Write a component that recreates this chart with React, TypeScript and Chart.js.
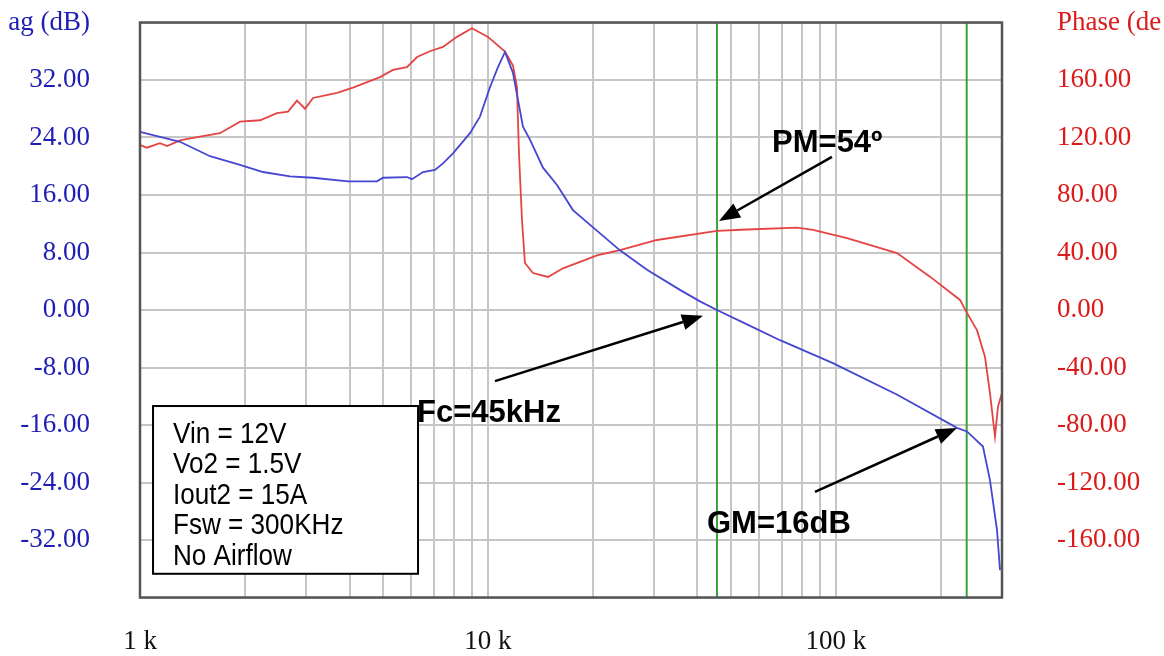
import React, { useEffect, useRef } from "react";
import { Chart, registerables } from "chart.js";

Chart.register(...registerables);

// ---- Data ----
const magFreq = [1000, 1303, 1589, 1938, 2257, 2698, 3142, 3960, 4797, 4992, 5851, 6046, 6506, 7041, 7425, 7932, 8878, 9484, 10133, 10683, 11190, 11797, 12605, 13202, 14389, 15788, 17548, 20035, 23954, 28641, 35622, 40660, 45499, 55500, 69050, 98000, 150000, 222700, 237900, 264500, 277100, 290200, 296100];
const magDb = [24.8, 23.4, 21.4, 20.2, 19.2, 18.6, 18.4, 17.9, 17.9, 18.4, 18.5, 18.2, 19.2, 19.5, 20.4, 21.8, 24.6, 26.9, 31.0, 33.8, 35.9, 33.0, 25.5, 23.7, 19.8, 17.4, 13.9, 11.5, 8.3, 5.6, 2.8, 1.2, 0.0, -2.0, -4.2, -7.4, -11.8, -16.4, -16.9, -19.0, -23.7, -30.6, -36.2];

const phaseFreq = [1000, 1047, 1141, 1196, 1303, 1487, 1698, 1938, 2212, 2476, 2663, 2826, 2980, 3142, 3683, 4093, 4894, 5333, 5851, 6252, 6813, 7425, 8145, 8995, 10000, 11190, 11797, 12114, 12276, 12522, 12771, 13466, 14874, 16428, 20571, 23954, 30590, 45499, 55500, 77250, 85890, 107550, 149760, 186250, 227200, 237900, 254200, 268100, 277100, 286400, 292200, 299900];
const phaseDeg = [114.8, 112.9, 116, 114, 118, 120.6, 123, 131, 132, 137, 138, 145.6, 140, 147.5, 151, 154.7, 162, 167, 169, 176, 180, 183, 190, 196, 190, 179.7, 170, 155, 109, 62.6, 32.7, 25.7, 23, 29, 38, 41.7, 48.7, 55, 56, 57.3, 55.7, 50, 39.6, 23.2, 7, -2, -14, -32.7, -58, -88, -67, -58];

const markerFreqs = [45500, 237500];

const xGridFreqs = [1000, 2000, 3000, 4000, 5000, 6000, 7000, 8000, 9000, 10000, 20000, 30000, 40000, 50000, 60000, 70000, 80000, 90000, 100000, 200000, 300000];
const xLabelFreqs = [1000, 10000, 100000];
const xLabelTexts = ["1 k", "10 k", "100 k"];

const magTitle = "ag (dB)";
const phaseTitle = "Phase (de";

// annotations (data coordinates: freq, dB)
const noteTexts = ["PM=54º", "Fc=45kHz", "GM=16dB"];
const notePos = [[65500, 22.0], [6252, -15.6], [42590, -31.0]];
const arrowTails = [[97400, 21.3], [10474, -9.9], [87030, -25.3]];
const arrowTips = [[46110, 12.4], [41480, -0.8], [222700, -16.4]];

const boxLines = ["Vin = 12V", "Vo2 = 1.5V", "Iout2 = 15A", "Fsw = 300KHz", "No Airflow"];
const boxCorner1 = [1090, -13.36];
const boxCorner2 = [6295, -36.7];
const boxTextAnchor = [1244, -18.5];

const SERIF = "'Liberation Serif', 'Times New Roman', serif";
const SANS = "'Liberation Sans', Arial, sans-serif";

function drawArrow(ctx: CanvasRenderingContext2D, x1: number, y1: number, x2: number, y2: number) {
  const ang = Math.atan2(y2 - y1, x2 - x1);
  const headLen = 21;
  const headHalf = 8;
  const bx = x2 - headLen * Math.cos(ang);
  const by = y2 - headLen * Math.sin(ang);
  ctx.beginPath();
  ctx.moveTo(x1, y1);
  ctx.lineTo(bx, by);
  ctx.stroke();
  ctx.beginPath();
  ctx.moveTo(x2, y2);
  ctx.lineTo(bx + headHalf * Math.sin(ang), by - headHalf * Math.cos(ang));
  ctx.lineTo(bx - headHalf * Math.sin(ang), by + headHalf * Math.cos(ang));
  ctx.closePath();
  ctx.fill();
}

const annotPlugin = {
  id: "annot",
  afterDatasetsDraw(chart: any) {
    const { ctx, chartArea, scales } = chart;
    const xs = scales.x;
    const ys = scales.y;
    const px = (f: number) => xs.getPixelForValue(f);
    const py = (v: number) => ys.getPixelForValue(v);
    ctx.save();
    // plot border
    ctx.strokeStyle = "#555555";
    ctx.lineWidth = 2.5;
    ctx.strokeRect(chartArea.left, chartArea.top, chartArea.right - chartArea.left, chartArea.bottom - chartArea.top);

    // arrows
    ctx.strokeStyle = "#000";
    ctx.fillStyle = "#000";
    ctx.lineWidth = 2.5;
    for (let i = 0; i < arrowTails.length; i++) {
      drawArrow(ctx, px(arrowTails[i][0]), py(arrowTails[i][1]), px(arrowTips[i][0]), py(arrowTips[i][1]));
    }
    // notes
    ctx.font = `bold 31px ${SANS}`;
    ctx.textBaseline = "alphabetic";
    ctx.textAlign = "left";
    for (let i = 0; i < noteTexts.length; i++) {
      ctx.fillText(noteTexts[i], px(notePos[i][0]), py(notePos[i][1]));
    }
    // info box
    const bx1 = px(boxCorner1[0]);
    const by1 = py(boxCorner1[1]);
    const bx2 = px(boxCorner2[0]);
    const by2 = py(boxCorner2[1]);
    ctx.fillStyle = "#fff";
    ctx.fillRect(bx1, by1, bx2 - bx1, by2 - by1);
    ctx.strokeStyle = "#000";
    ctx.lineWidth = 2;
    ctx.strokeRect(bx1, by1, bx2 - bx1, by2 - by1);
    ctx.fillStyle = "#000";
    ctx.font = `30px ${SANS}`;
    const tx = px(boxTextAnchor[0]);
    const ty = py(boxTextAnchor[1]);
    for (let i = 0; i < boxLines.length; i++) {
      ctx.save();
      ctx.translate(tx, ty + i * 30.5);
      ctx.scale(0.87, 1);
      ctx.fillText(boxLines[i], 0, 0);
      ctx.restore();
    }
    ctx.restore();
  },
};

export default function App() {
  const ref = useRef<HTMLCanvasElement | null>(null);
  useEffect(() => {
    document.body.style.margin = "0";
    const canvas = ref.current;
    if (!canvas) return;
    const chart = new Chart(canvas, {
      type: "line",
      data: {
        datasets: [
          ...markerFreqs.map((f) => ({
            data: [{ x: f, y: -40 }, { x: f, y: 40 }],
            borderColor: "#3aa23a",
            borderWidth: 2,
            pointRadius: 0,
            yAxisID: "y",
            order: 3,
          })),
          {
            label: "Phase",
            data: phaseFreq.map((f, i) => ({ x: f, y: phaseDeg[i] })),
            borderColor: "#e44444",
            borderWidth: 1.8,
            pointRadius: 0,
            tension: 0,
            yAxisID: "y2",
            order: 2,
          },
          {
            label: "Mag",
            data: magFreq.map((f, i) => ({ x: f, y: magDb[i] })),
            borderColor: "#4646d2",
            borderWidth: 1.8,
            pointRadius: 0,
            tension: 0,
            yAxisID: "y",
            order: 1,
          },
        ],
      },
      options: {
        responsive: false,
        animation: false,
        events: [],
        layout: { padding: { top: 22.5, left: 0, right: 0, bottom: 0 } },
        plugins: { legend: { display: false }, tooltip: { enabled: false } },
        scales: {
          x: {
            type: "logarithmic",
            min: 1000,
            max: 300000,
            afterBuildTicks: (axis: any) => {
              axis.ticks = xGridFreqs.map((v) => ({ value: v }));
            },
            afterFit: (s: any) => {
              s.height = 58.5;
            },
            grid: { color: "#c6c6c6", lineWidth: 2, drawTicks: true, tickLength: 28, tickColor: "rgba(0,0,0,0)" },
            border: { display: false },
            ticks: {
              autoSkip: false,
              maxRotation: 0,
              padding: 0,
              color: "#111",
              font: { family: SERIF, size: 27 },
              callback: (v: any) => {
                const idx = xLabelFreqs.indexOf(Number(v));
                return idx >= 0 ? xLabelTexts[idx] : "";
              },
            },
          },
          y: {
            type: "linear",
            position: "left",
            min: -40,
            max: 40,
            afterFit: (s: any) => {
              s.width = 140;
            },
            grid: { color: "#c6c6c6", lineWidth: 2, drawTicks: true, tickLength: 50, tickColor: "rgba(0,0,0,0)" },
            border: { display: false },
            ticks: {
              stepSize: 8,
              autoSkip: false,
              padding: 0,
              color: "#1e1eb4",
              font: { family: SERIF, size: 27 },
              callback: (v: any) => {
                const n = Number(v);
                if (n === 40) return magTitle;
                if (n === -40) return "";
                return n.toFixed(2);
              },
            },
          },
          y2: {
            type: "linear",
            position: "right",
            min: -200,
            max: 200,
            afterFit: (s: any) => {
              s.width = 162;
            },
            grid: { display: false, drawOnChartArea: false, drawTicks: true, tickLength: 55, tickColor: "rgba(0,0,0,0)" },
            border: { display: false },
            ticks: {
              stepSize: 40,
              autoSkip: false,
              padding: 0,
              color: "#dc1a1a",
              font: { family: SERIF, size: 27 },
              callback: (v: any) => {
                const n = Number(v);
                if (n === 200) return phaseTitle;
                if (n === -200) return "";
                return n.toFixed(2);
              },
            },
          },
        },
      },
      plugins: [annotPlugin],
    } as any);
    return () => chart.destroy();
  }, []);
  return (
    <div style={{ width: 1164, height: 656, background: "#fff" }}>
      <canvas ref={ref} width={1164} height={656} style={{ display: "block" }} />
    </div>
  );
}
